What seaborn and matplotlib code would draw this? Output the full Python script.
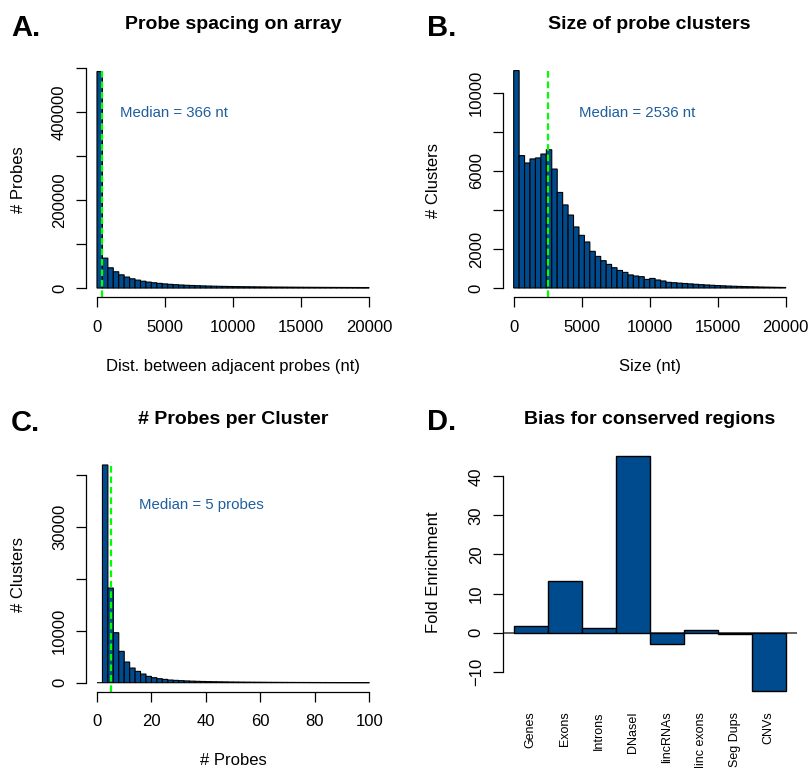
import numpy as np
import pandas as pd
import matplotlib
matplotlib.use("Agg")
import matplotlib.pyplot as plt
import seaborn as sns

# histogram counts (bins of 400 nt / 2 probes)
spacing_edges = list(range(0, 20001, 400))
spacing_counts = [492000, 68000, 46000, 37000, 30000, 25000, 21000, 18000, 15500, 13500,
                  12000, 10600, 9400, 8400, 7600, 6900, 6300, 5800, 5300, 4900,
                  4550, 4250, 3950, 3700, 3480, 3280, 3100, 2930, 2780, 2640,
                  2510, 2390, 2280, 2180, 2080, 1990, 1900, 1820, 1740, 1670,
                  1600, 1540, 1480, 1420, 1370, 1320, 1270, 1220, 1180, 1140]

size_edges = list(range(0, 20001, 400))
size_counts = [11150, 6790, 6410, 6620, 6670, 6870, 7090, 6100, 4900, 4260,
               3740, 3130, 2700, 2360, 1880, 1620, 1400, 1210, 1040, 900,
               800, 670, 615, 580, 440, 490, 410, 360, 290, 270,
               250, 230, 210, 190, 170, 155, 140, 125, 112, 100,
               90, 80, 72, 64, 57, 50, 44, 38, 33, 28]

nprobe_edges = list(range(0, 101, 2))
nprobe_counts = [0, 42030, 18280, 9650, 6050, 3990, 2830, 2190, 1670, 1220,
                 965, 770, 640, 515, 450, 390, 340, 300, 265, 235,
                 210, 190, 170, 155, 140, 128, 117, 107, 98, 90,
                 83, 76, 70, 65, 60, 55, 51, 47, 44, 41,
                 38, 35, 33, 31, 29, 27, 25, 23, 22, 20]

regions = ["Genes", "Exons", "Introns", "DNaseI", "lincRNAs", "linc exons", "Seg Dups", "CNVs"]
fold_enrichment = [1.6, 13.1, 1.1, 45.2, -2.8, 0.7, -0.4, -14.9]

median_spacing = 366
median_size = 2536
median_probes = 5

W, H = 809, 768
BLUE = "#004B8D"
TXTBLUE = "#1F5E9E"
GREEN = "#00FF00"

sns.set_style("ticks")
plt.rcParams["font.family"] = ["Liberation Sans", "DejaVu Sans"]
plt.rcParams["font.size"] = 12
for k in ["text.color", "axes.labelcolor", "xtick.color", "ytick.color", "axes.edgecolor"]:
    plt.rcParams[k] = "black"

fig = plt.figure(figsize=(W / 100, H / 100), dpi=100)


def px(x, y):
    return x / W, 1 - y / H


def make_ax(left, top, right, bottom):
    return fig.add_axes([left / W, 1 - bottom / H, (right - left) / W, (bottom - top) / H])


def style_ax(ax, xb, yb, xticks, yticks):
    for s in ["top", "right"]:
        ax.spines[s].set_visible(False)
    ax.spines["left"].set_bounds(*yb)
    ax.spines["bottom"].set_bounds(*xb)
    for s in ["left", "bottom"]:
        ax.spines[s].set_color("black")
        ax.spines[s].set_linewidth(0.9)
    ax.set_xticks(xticks)
    ax.set_yticks(yticks)
    ax.tick_params(axis="both", direction="out", length=7.2, width=0.9, color="black",
                   labelsize=12, labelcolor="black", bottom=True, left=True)
    ax.tick_params(axis="x", pad=9)
    ax.tick_params(axis="y", pad=6.5, labelrotation=90)


def hist_panel(ax, edges, counts, med, xlim, ylim):
    mids = [(a + b) / 2 for a, b in zip(edges[:-1], edges[1:])]
    df = pd.DataFrame({"mid": mids, "n": counts})
    sns.histplot(data=df, x="mid", weights="n", bins=edges, color=BLUE, edgecolor="black",
                 linewidth=0.8, alpha=1, ax=ax)
    # keep the very short tail bars visible as an outline
    for p in ax.patches:
        p.set_snap(False)
    ax.axvline(med, color=GREEN, ls=(0, (3, 1.7)), lw=1.6)
    ax.set_xlim(*xlim)
    ax.set_ylim(*ylim)


def labels(ax, title, xlabel, ylabel, xl_pos, yl_pos):
    ax.set_title(title, fontsize=14, fontweight="bold", y=1.169, pad=0)
    if xlabel:
        ax.set_xlabel(xlabel, fontsize=12, va="center")
        ax.xaxis.set_label_coords(*px(*xl_pos), transform=fig.transFigure)
    else:
        ax.set_xlabel("")
    ax.set_ylabel(ylabel, fontsize=12, va="center")
    ax.yaxis.set_label_coords(*px(*yl_pos), transform=fig.transFigure)


# A. probe spacing
axA = make_ax(86.1, 68, 379.9, 297)
hist_panel(axA, spacing_edges, spacing_counts, median_spacing, (-800, 20800), (-20362, 497738))
style_ax(axA, (0, 20000), (0, 500000), range(0, 20001, 5000), range(0, 500001, 100000))
axA.set_yticklabels(["0", "", "200000", "", "400000", ""], va="center")
axA.text(1700, 398000, f"Median = {median_spacing} nt", color=TXTBLUE, fontsize=10.8,
         ha="left", va="center")
labels(axA, "Probe spacing on array", "Dist. between adjacent probes (nt)", "# Probes",
       (233.3, 366.7), (18.3, 180))

# B. cluster size
axB = make_ax(502.8, 68, 796.6, 297)
hist_panel(axB, size_edges, size_counts, median_size, (-800, 20800), (-462, 11282))
style_ax(axB, (0, 20000), (0, 10000), range(0, 20001, 5000), range(0, 10001, 2000))
axB.set_yticklabels(["0", "2000", "", "6000", "", "10000"], va="center")
axB.text(4779, 8990, f"Median = {median_size} nt", color=TXTBLUE, fontsize=10.8,
         ha="left", va="center")
labels(axB, "Size of probe clusters", "Size (nt)", "# Clusters", (649.8, 366.7), (433.3, 180))

# C. probes per cluster
axC = make_ax(86.1, 462.3, 380.2, 691.5)
hist_panel(axC, nprobe_edges, nprobe_counts, median_probes, (-4, 104), (-1699, 42548))
style_ax(axC, (0, 100), (0, 40000), range(0, 101, 20), range(0, 40001, 10000))
axC.set_yticklabels(["0", "10000", "", "30000", ""], va="center")
axC.text(15.4, 34360, f"Median = {median_probes} probes", color=TXTBLUE, fontsize=10.8,
         ha="left", va="center")
labels(axC, "# Probes per Cluster", "# Probes", "# Clusters", (233, 760.7), (18.3, 574))

# D. conservation bias
axD = make_ax(502.8, 462.3, 796.6, 691.5)
sns.barplot(x=regions, y=fold_enrichment, color=BLUE, saturation=1, edgecolor="black",
            linewidth=1, width=1, ax=axD)
for p in axD.patches:
    p.set_clip_on(False)
axD.axhline(0, color="#555555", lw=1.3, zorder=0.5)
axD.set_xlim(-0.82, 7.82)
axD.set_ylim(-15.04, 43.58)
for s in ["top", "right", "bottom"]:
    axD.spines[s].set_visible(False)
axD.spines["left"].set_bounds(-10, 40)
axD.spines["left"].set_color("black")
axD.spines["left"].set_linewidth(0.9)
axD.set_yticks(range(-10, 41, 10))
axD.set_yticklabels([str(v).replace("-", "\u2212") for v in range(-10, 41, 10)], va="center")
axD.tick_params(axis="y", direction="out", length=7.2, width=0.9, color="black",
                labelsize=12, pad=6.5, labelrotation=90, left=True)
axD.tick_params(axis="x", length=0, labelsize=9, pad=14.5, labelrotation=90)
labels(axD, "Bias for conserved regions", None, "Fold Enrichment", None, (433.3, 572.3))

# panel letters
for letter, (x, y) in zip(["A.", "B.", "C.", "D."],
                          [(11, 36), (426.7, 36), (11, 430.7), (426.7, 429.7)]):
    fig.text(*px(x, y), letter, fontsize=21, fontweight="bold", ha="left", va="baseline")

fig.savefig("out.png", dpi=100)
